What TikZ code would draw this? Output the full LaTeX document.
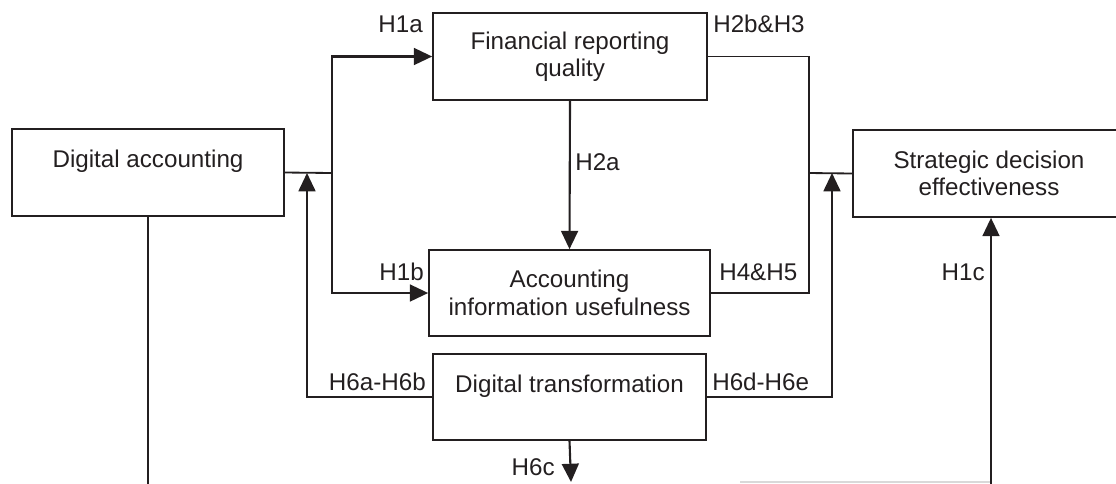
\documentclass[tikz,border=0pt]{standalone}
\usepackage{fontspec}
\setmainfont{Liberation Sans}
\usetikzlibrary{arrows.meta}
\definecolor{ink}{RGB}{35,31,32}

\begin{document}
\begin{tikzpicture}[x=0.025cm, y=-0.025cm,
  every node/.style={font=\fontsize{17.2}{19.5}\selectfont, text=ink},
  box/.style={draw=ink, line width=1.2pt, align=center, minimum height=87*0.025cm, inner sep=2pt},
  hyp/.style={inner sep=0pt},
  arr/.style={draw=ink, line width=1.5pt, -{Triangle[length=13pt,width=12pt]}},
  con/.style={draw=ink, line width=1.3pt}]
  \useasboundingbox (0,0) rectangle (1116,483);
  \clip (0,0) rectangle (1116,483);

  % boxes
  \node[box, minimum width=272*0.025cm] (da) at (148,172.5) {Digital accounting\\~};
  \node[box, minimum width=274*0.025cm] (frq) at (570,56.5) {Financial reporting\\quality};
  \node[box, minimum width=281*0.025cm, minimum height=86*0.025cm] (aiu) at (569.5,293) {Accounting\\information usefulness};
  \node[box, minimum width=273*0.025cm, minimum height=86*0.025cm] (dt) at (569.5,397) {Digital transformation\\~};
  \node[box, minimum width=272*0.025cm] (sde) at (989,173.5) {Strategic decision\\effectiveness};

  % junctions
  \coordinate (j1) at (332,173);
  \coordinate (j2) at (307,173);
  \coordinate (j3) at (809,173);
  \coordinate (j4) at (832,173);
  \coordinate (dabot) at (148,484);
  \coordinate (sdebot) at (991,484);
  \coordinate (dtbot) at (571,482);
  \coordinate (fade) at (740,482);

  % digital accounting to mediators
  \draw[con] (da.east) -- (j1);
  \draw[arr] (j1) |- (frq.west);
  \draw[arr] (j1) |- (aiu.west);
  \draw[arr] (frq.south) -- (aiu.north);

  % mediators to decision
  \draw[con] (frq.east) -| (j3) |- (aiu.east);
  \draw[con] (j3) -- (sde.west);

  % moderator
  \draw[arr] (dt.west) -| (j2);
  \draw[arr] (dt.east) -| (j4);
  \draw[arr] (dt.south) -- (dtbot);

  % direct path
  \draw[con] (da.south) -- (dabot);
  \draw[gray!30, line width=1pt] (fade) -- (991,482);
  \draw[arr] (sdebot) -- (sdebot |- sde.south);

  % hypothesis labels
  \node[hyp, anchor=base east] (h1a) at (423,32) {H1a};
  \node[hyp, anchor=base east] (h1b) at (424,280) {H1b};
  \node[hyp, anchor=base east] (h6ab) at (426,390) {H6a-H6b};
  \node[hyp, anchor=base west] (h2a) at (575,170) {H2a};
  \node[hyp, anchor=base west] (h2b) at (713,32) {H2b\&H3};
  \node[hyp, anchor=base west] (h45) at (719,280) {H4\&H5};
  \node[hyp, anchor=base west] (h6de) at (712,390) {H6d-H6e};
  \node[hyp, anchor=base east] (h1c) at (985,280) {H1c};
  \node[hyp, anchor=base east] (h6c) at (555,475) {H6c};
\end{tikzpicture}
\end{document}
